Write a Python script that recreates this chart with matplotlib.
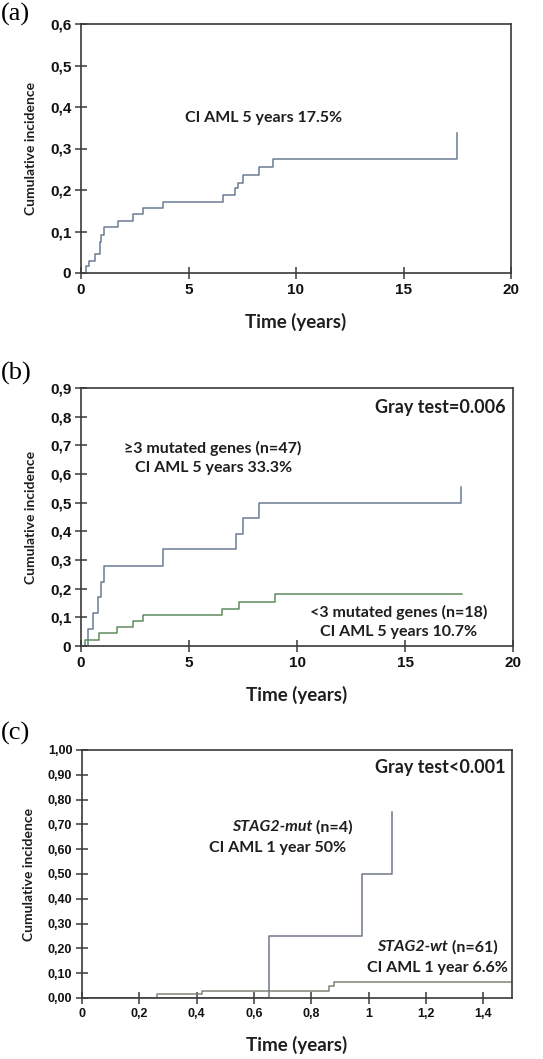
import matplotlib
matplotlib.use("Agg")
import matplotlib.pyplot as plt
from matplotlib.ticker import FixedLocator

# ---------------- data ----------------
# Panel (a): overall cumulative incidence of AML
a_time = [0, 0.23, 0.39, 0.65, 0.88, 0.95, 1.05, 1.74, 2.43, 2.87, 3.80, 6.59,
          7.18, 7.30, 7.52, 8.26, 8.95, 17.50]
a_ci = [0, 0.016, 0.030, 0.046, 0.075, 0.092, 0.110, 0.126, 0.142, 0.156, 0.172,
        0.188, 0.204, 0.218, 0.237, 0.255, 0.275, 0.337]

# Panel (b): >=3 mutated genes vs <3 mutated genes
b_hi_time = [0, 0.34, 0.57, 0.77, 0.91, 1.06, 3.78, 7.17, 7.48, 8.25, 17.58]
b_hi_ci = [0, 0.060, 0.115, 0.171, 0.225, 0.280, 0.337, 0.390, 0.445, 0.500, 0.555]
b_lo_time = [0, 0.19, 0.85, 1.68, 2.42, 2.88, 6.55, 7.32, 8.99, 17.65]
b_lo_ci = [0, 0.022, 0.044, 0.066, 0.088, 0.107, 0.130, 0.152, 0.180, 0.180]

# Panel (c): STAG2-mut vs STAG2-wt
c_mut_time = [0, 0.651, 0.978, 1.082]
c_mut_ci = [0, 0.25, 0.50, 0.75]
c_wt_time = [0, 0.26, 0.42, 0.862, 0.880, 1.50]
c_wt_ci = [0, 0.015, 0.030, 0.050, 0.066, 0.066]

a_yticks = [0, 0.1, 0.2, 0.3, 0.4, 0.5, 0.6]
a_yticklabels = ["0", "0,1", "0,2", "0,3", "0,4", "0,5", "0,6"]
b_yticks = [0, 0.1, 0.2, 0.3, 0.4, 0.5, 0.6, 0.7, 0.8, 0.9]
b_yticklabels = ["0", "0,1", "0,2", "0,3", "0,4", "0,5", "0,6", "0,7", "0,8", "0,9"]
ab_xticks = [0, 5, 10, 15, 20]
ab_xticklabels = ["0", "5", "10", "15", "20"]
c_yticks = [0, 0.1, 0.2, 0.3, 0.4, 0.5, 0.6, 0.7, 0.8, 0.9, 1.0]
c_yticklabels = ["0,00", "0,10", "0,20", "0,30", "0,40", "0,50", "0,60",
                 "0,70", "0,80", "0,90", "1,00"]
c_xticks = [0, 0.2, 0.4, 0.6, 0.8, 1.0, 1.2, 1.4]
c_xticklabels = ["0", "0,2", "0,4", "0,6", "0,8", "1", "1,2", "1,4"]

# ---------------- figure ----------------
W, H = 543, 1059
fig = plt.figure(figsize=(W / 100, H / 100), dpi=100)

def fx(px):
    return px / W

def fy(py):
    return 1 - py / H

def make_axes(l, r, t, b):
    return fig.add_axes([fx(l), fy(b), fx(r) - fx(l), (b - t) / H])

LBL = ["Lato", "DejaVu Sans"]
TICKF = ["Liberation Sans", "DejaVu Sans"]
SPINE = "#3a3a3a"
BLUE = "#6b7a95"
GREEN = "#5e8c5e"
TXT = "#1e1e1e"
AFS = 11.5

def style(ax, xt, xtl, yt, ytl, xlim, ylim, fs=11):
    ax.set_xlim(*xlim)
    ax.set_ylim(*ylim)
    ax.xaxis.set_major_locator(FixedLocator(xt))
    ax.yaxis.set_major_locator(FixedLocator(yt))
    ax.set_xticklabels(xtl, fontfamily=TICKF, fontweight="bold", fontsize=fs)
    ax.set_yticklabels(ytl, fontfamily=TICKF, fontweight="bold", fontsize=fs)
    ax.tick_params(direction="inout", length=8, width=1.1, color=SPINE,
                   labelcolor="#111111", pad=3)
    for s in ax.spines.values():
        s.set_color(SPINE)
        s.set_linewidth(1.2)
    ax.set_ylabel("Cumulative incidence", fontfamily=LBL, fontweight="bold",
                  fontsize=10, color=TXT, labelpad=9)
    ax.set_xlabel("Time (years)", fontfamily=LBL, fontweight="bold",
                  fontsize=13.5, color=TXT, labelpad=12)

def label(x, y, s, ha="center", fs=AFS, style="normal"):
    return fig.text(fx(x), fy(y), s, ha=ha, va="center", fontfamily=LBL,
                    fontweight="bold", fontstyle=style, fontsize=fs, color=TXT)

# ----- (a) -----
ax1 = make_axes(81, 511, 24, 273)
ax1.step(a_time, a_ci, where="post", color=BLUE, lw=1.1)
style(ax1, ab_xticks, ab_xticklabels, a_yticks, a_yticklabels, (0, 20), (0, 0.6))
label(264, 118, "CI AML 5 years 17.5%")
fig.text(fx(1), fy(14), "(a)", ha="left", va="center",
         fontfamily="Liberation Serif", fontsize=19)

# ----- (b) -----
ax2 = make_axes(81, 513, 388, 646)
ax2.step(b_hi_time, b_hi_ci, where="post", color=BLUE, lw=1.1)
ax2.step(b_lo_time, b_lo_ci, where="post", color=GREEN, lw=1.1)
style(ax2, ab_xticks, ab_xticklabels, b_yticks, b_yticklabels, (0, 20), (0, 0.9))
label(506, 408, "Gray test=0.006", ha="right", fs=13)
label(213, 448, "≥3 mutated genes (n=47)")
label(214, 468, "CI AML 5 years 33.3%")
label(399, 612, "<3 mutated genes (n=18)")
label(399, 632, "CI AML 5 years 10.7%")
fig.text(fx(1), fy(373), "(b)", ha="left", va="center",
         fontfamily="Liberation Serif", fontsize=19)

# ----- (c) -----
ax3 = make_axes(82, 512, 750, 998)
ax3.step(c_wt_time, c_wt_ci, where="post", color="#7d8578", lw=1.1)
ax3.step(c_mut_time, c_mut_ci, where="post", color="#6f7888", lw=1.1)
style(ax3, c_xticks, c_xticklabels, c_yticks, c_yticklabels, (0, 1.5), (0, 1.0), fs=9)
label(506, 767, "Gray test<0.001", ha="right", fs=13)
t1 = label(232, 827, "STAG2-mut", ha="left", style="italic")
label(278, 848, "CI AML 1 year 50%")
t2 = label(377, 947, "STAG2-wt", ha="left", style="italic")
label(437, 968, "CI AML 1 year 6.6%")
fig.canvas.draw()
renderer = fig.canvas.get_renderer()
for t, s in ((t1, " (n=4)"), (t2, " (n=61)")):
    bb = t.get_window_extent(renderer)
    fig.text(bb.x1 / (fig.dpi * fig.get_figwidth()), t.get_position()[1], s,
             ha="left", va="center", fontfamily=LBL, fontweight="bold",
             fontsize=AFS, color=TXT)
fig.text(fx(1), fy(733), "(c)", ha="left", va="center",
         fontfamily="Liberation Serif", fontsize=19)

fig.savefig("out.png", dpi=100)
